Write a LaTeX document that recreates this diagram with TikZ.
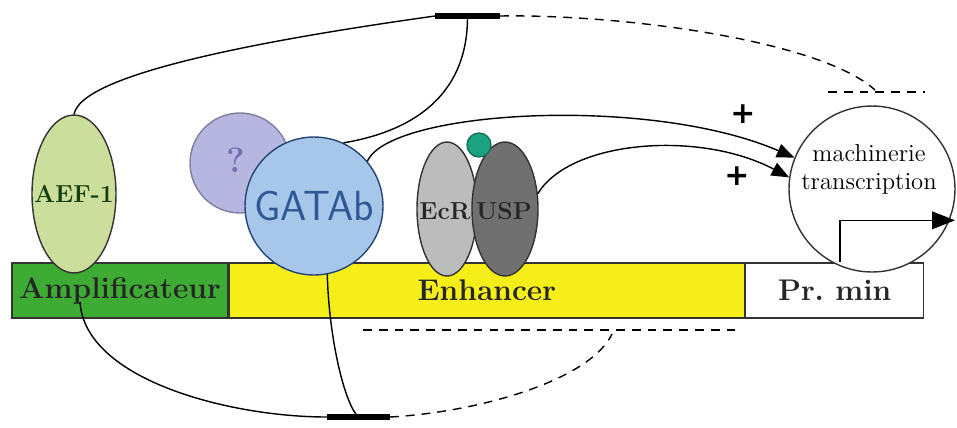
\documentclass[tikz,border=0pt]{standalone}
\usepackage{fontspec}
\usepackage{tikz}
\usetikzlibrary{shapes,calc,positioning}
\usetikzlibrary{arrows.meta}
\newfontfamily\plusfont{DejaVu Sans}
\definecolor{ampgreen}{RGB}{62,172,52}
\definecolor{enhyellow}{RGB}{246,238,24}
\definecolor{aefgreen}{RGB}{204,222,156}
\definecolor{aeftext}{RGB}{22,62,14}
\definecolor{quesblue}{RGB}{182,182,224}
\definecolor{questext}{RGB}{118,108,178}
\definecolor{gatablue}{RGB}{166,198,234}
\definecolor{gatatext}{RGB}{48,88,150}
\definecolor{ecrgray}{RGB}{188,188,188}
\definecolor{uspgray}{RGB}{112,112,112}
\definecolor{lig}{RGB}{28,162,128}

\begin{document}
\begin{tikzpicture}[x=0.02cm,y=-0.02cm,
    dna/.style={draw=black!80,thick,minimum height=1.1cm,inner sep=0pt,
      font=\fontsize{17}{18}\selectfont\bfseries,text=black!85},
    prot/.style={draw=black!80,thick,inner sep=0pt},
    lnk/.style={thick},
    dsh/.style={thick,dash pattern=on 5pt off 4pt},
    bar/.style={line width=3pt},
    act/.style={thick,-{Triangle[length=10pt,width=8pt]}},
    pls/.style={font=\fontsize{17}{17}\selectfont\plusfont\bfseries}]
  \useasboundingbox (0,0) rectangle (957,427);
  % DNA
  \node[dna,fill=ampgreen,minimum width=4.32cm] (amp) at (120,290.5) {Amplificateur};
  \node[dna,fill=enhyellow,minimum width=10.3cm,right=0pt of amp] (enh) {Enhancer\hspace{0.5cm}};
  \node[dna,fill=white,minimum width=3.56cm,right=0pt of enh] (prm) {Pr.\ min\hspace{0.2cm}};
  % Proteins
  \node[prot,ellipse,fill=aefgreen,minimum width=1.68cm,minimum height=3.16cm] (aef) at (74,194) {};
  \node[font=\fontsize{14}{16}\selectfont\bfseries,text=aeftext] (aeft) at (aef) {AEF-1};
  \node[prot,circle,fill=quesblue,draw=quesblue!70!black,minimum size=2cm] (ques) at (240,163) {};
  \node[font=\fontsize{20}{24}\selectfont\bfseries,text=questext] (quest) at (236,160) {?};
  \node[prot,circle,fill=gatablue,draw=gatatext!80!black,minimum size=2.76cm] (gata) at (314,206) {};
  \node[font=\fontsize{24}{26}\selectfont\sffamily,text=gatatext] (gatat) at (gata) {GATAb};
  \node[prot,ellipse,fill=ecrgray,minimum width=1.2cm,minimum height=2.68cm] (ecr) at (447,209) {};
  \node[prot,ellipse,fill=uspgray,minimum width=1.32cm,minimum height=2.68cm] (usp) at (505,209) {};
  \node[prot,circle,fill=lig,draw=lig!70!black,minimum size=0.48cm] (ligc) at (479,145) {};
  \node[font=\fontsize{14}{15}\selectfont\bfseries,text=black!85] (ecrt) at (445,211) {EcR};
  \node[font=\fontsize{14}{15}\selectfont\bfseries,text=black!85] (uspt) at (504,211) {USP};
  % Transcription machinery
  \node[prot,circle,fill=white,minimum size=3.32cm] (mach) at (872,189) {};
  \node[align=center,font=\fontsize{14}{16}\selectfont] (macht) at (869,169) {machinerie\\transcription};
  \coordinate (tss) at ($(prm.north west)!0.53!(prm.north east)$);
  \draw[thick,-{Triangle[length=13pt,width=10pt]}] (tss) -- ++(0,-42) -- ++(115,0);
  % Repression (top)
  \coordinate (tl) at (435,16);
  \coordinate (tr) at (500,16);
  \coordinate (tm) at ($(tl)!0.5!(tr)$);
  \draw[bar] (tl) -- (tr);
  \draw[lnk] (aef.north) .. controls (78,95) and (120,60) .. (tl);
  \draw[lnk] (gata.65) .. controls (420,130) and (468,90) .. (tm);
  \coordinate (mt1) at (828,92);
  \coordinate (mt2) at (925,92);
  \draw[dsh] (tr) .. controls (620,14) and (820,40) .. (875,90);
  \draw[dsh] (mt1) -- (mt2);
  % Activation
  \draw[act] (gata.40) .. controls (390,110) and (650,95) .. (mach.158);
  \draw[act] (usp.25) .. controls (570,140) and (700,130) .. (mach.172);
  \node[pls] (p1) at (743,114) {+};
  \node[pls] (p2) at (737,176) {+};
  % Repression (bottom)
  \coordinate (ampl) at (80,302);
  \coordinate (bl) at (327,417);
  \coordinate (br) at (390,417);
  \coordinate (bm) at ($(bl)!0.5!(br)$);
  \draw[bar] (bl) -- (br);
  \draw[lnk] (ampl) .. controls (85,380) and (230,417) .. (bl);
  \draw[lnk] (gata.-79) .. controls (329,340) and (345,405) .. (bm);
  \coordinate (el1) at (363,330);
  \coordinate (el2) at (737,330);
  \draw[dsh] (br) .. controls (480,412) and (590,380) .. (612,334);
  \draw[dsh] (el1) -- (el2);
\end{tikzpicture}
\end{document}
